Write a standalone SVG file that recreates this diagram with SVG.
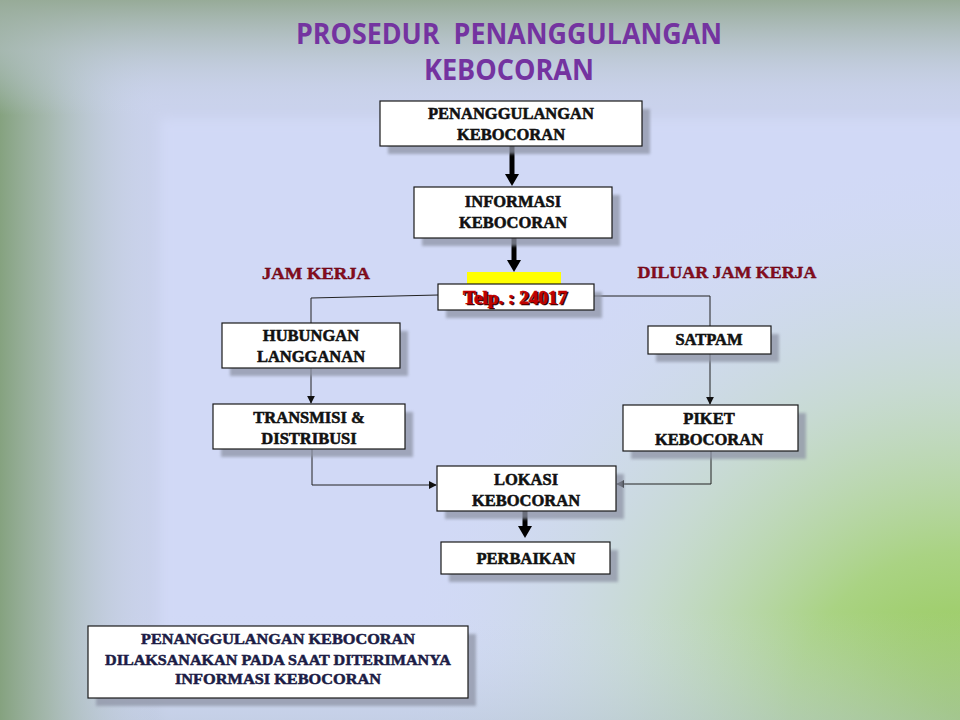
<svg xmlns="http://www.w3.org/2000/svg" width="960" height="720" viewBox="0 0 960 720">
<defs>
<linearGradient id="gl" x1="0" y1="0" x2="1" y2="0">
<stop offset="0" stop-color="#85a27f"/>
<stop offset="0.05" stop-color="#9fb4a4" stop-opacity="0.85"/>
<stop offset="0.17" stop-color="#cdd6f0" stop-opacity="0"/>
</linearGradient>
<linearGradient id="gt" x1="0" y1="0" x2="0" y2="1">
<stop offset="0" stop-color="#97ab98"/>
<stop offset="0.07" stop-color="#b3c1c4" stop-opacity="0.7"/>
<stop offset="0.16" stop-color="#cdd6f0" stop-opacity="0"/>
</linearGradient>
<radialGradient id="gbr" cx="960" cy="720" r="560" gradientUnits="userSpaceOnUse">
<stop offset="0" stop-color="#8fc648"/>
<stop offset="0.3" stop-color="#a5d276" stop-opacity="0.9"/>
<stop offset="0.6" stop-color="#bfdbb4" stop-opacity="0.55"/>
<stop offset="1" stop-color="#d2dcf2" stop-opacity="0"/>
</radialGradient>
<linearGradient id="gb" x1="0" y1="0" x2="0" y2="1">
<stop offset="0.85" stop-color="#cfd8f3" stop-opacity="0"/>
<stop offset="1" stop-color="#b8c6d6" stop-opacity="0.5"/>
</linearGradient>
<filter id="blur" x="-10%" y="-20%" width="120%" height="140%"><feGaussianBlur stdDeviation="1.5"/></filter>
<filter id="pblur" x="-10%" y="-10%" width="120%" height="120%"><feGaussianBlur stdDeviation="6"/></filter>
<marker id="ah" viewBox="0 0 10 10" refX="9" refY="5" markerWidth="8" markerHeight="8" markerUnits="userSpaceOnUse" orient="auto"><path d="M0,0 L10,5 L0,10 z" fill="#111"/></marker>
</defs>
<style>
.box{fill:#fff;stroke:#1a1a1a;stroke-width:1.2}
.sh{fill:#8f94a6;opacity:0.75;filter:url(#blur)}
.t{font-family:"Liberation Serif","Times New Roman",serif;font-weight:bold;font-size:16.5px;fill:#111;text-anchor:middle;stroke:#111;stroke-width:0.55}
.nt{font-family:"Liberation Serif","Times New Roman",serif;font-weight:bold;font-size:15px;fill:#1c1c45;text-anchor:middle;stroke:#1c1c45;stroke-width:0.5}
.lab{font-family:"Liberation Serif","Times New Roman",serif;font-weight:bold;font-size:17px;fill:#8a0c1c;text-anchor:middle;stroke:#5a0010;stroke-width:0.4}
.title{font-family:"Open Sans","Liberation Sans",sans-serif;font-weight:bold;font-size:28px;fill:#7433a0;text-anchor:middle;white-space:pre}
.c{fill:none;stroke:#222;stroke-width:1}
.thick{fill:none;stroke:#000;stroke-width:5}
</style>
<rect x="0" y="0" width="960" height="720" fill="#cad2ec"/>
<rect x="160" y="118" width="820" height="640" fill="#d1d9f6" filter="url(#pblur)"/>
<rect x="0" y="0" width="960" height="720" fill="url(#gbr)"/>
<rect x="0" y="0" width="960" height="720" fill="url(#gb)"/>
<rect x="0" y="0" width="960" height="720" fill="url(#gl)"/>
<rect x="0" y="0" width="960" height="720" fill="url(#gt)"/>
<text class="title" x="509" y="44" textLength="426" lengthAdjust="spacingAndGlyphs" xml:space="preserve">PROSEDUR  PENANGGULANGAN</text>
<text class="title" x="509" y="80" textLength="170" lengthAdjust="spacingAndGlyphs">KEBOCORAN</text>
<g id="connectors">
<line class="thick" x1="512" y1="146" x2="512" y2="176"/>
<path d="M505,174 L519,174 L512,186 z" fill="#000"/>
<line class="thick" x1="514" y1="238" x2="514" y2="262"/>
<path d="M507,260 L521,260 L514,272 z" fill="#000"/>
<polyline class="c" points="438,295 311,298 311,323"/>
<polyline class="c" points="594,296 710,296 710,326"/>
<line class="c" x1="311" y1="368" x2="311" y2="403" marker-end="url(#ah)"/>
<line class="c" x1="710" y1="354" x2="710" y2="404" marker-end="url(#ah)"/>
<polyline class="c" points="312,449 312,485 436,485" marker-end="url(#ah)"/>
<polyline class="c" points="711,451 711,484 617,484" marker-end="url(#ah)"/>
<line class="thick" x1="525" y1="511" x2="525" y2="528"/>
<path d="M518,526 L532,526 L525,538 z" fill="#000"/>
</g>
<g id="penanggulangan">
<rect class="sh" x="388" y="109" width="262" height="45"/>
<rect class="box" x="380" y="101" width="262" height="45"/>
<text class="t" x="511" y="119">PENANGGULANGAN</text>
<text class="t" x="511" y="140">KEBOCORAN</text>
</g>
<g id="informasi">
<rect class="sh" x="422" y="195" width="198" height="51"/>
<rect class="box" x="414" y="187" width="198" height="51"/>
<text class="t" x="513" y="207">INFORMASI</text>
<text class="t" x="513" y="228">KEBOCORAN</text>
</g>
<g id="jamkerja"><text class="lab" x="316" y="279" textLength="108" lengthAdjust="spacingAndGlyphs">JAM KERJA</text></g>
<g id="diluar"><text class="lab" x="727" y="278" textLength="179" lengthAdjust="spacingAndGlyphs">DILUAR JAM KERJA</text></g>
<g id="telp">
<rect x="467" y="272" width="94" height="16" fill="#ffff00"/>
<rect class="sh" x="446" y="292" width="156" height="26"/>
<rect class="box" x="438" y="284" width="156" height="26"/>
<text class="t" x="516.5" y="305" textLength="104" lengthAdjust="spacingAndGlyphs" style="font-size:18px;fill:#2a0000;stroke:#2a0000">Telp. : 24017</text>
<text class="t" x="515" y="303.5" textLength="104" lengthAdjust="spacingAndGlyphs" style="font-size:18px;fill:#c00000;stroke:#c00000">Telp. : 24017</text>
</g>
<g id="hubungan">
<rect class="sh" x="230" y="331" width="178" height="45"/>
<rect class="box" x="222" y="323" width="178" height="45"/>
<text class="t" x="311" y="341">HUBUNGAN</text>
<text class="t" x="311" y="362">LANGGANAN</text>
</g>
<g id="satpam">
<rect class="sh" x="656" y="334" width="123" height="28"/>
<rect class="box" x="648" y="326" width="123" height="28"/>
<text class="t" x="709" y="345">SATPAM</text>
</g>
<g id="transmisi">
<rect class="sh" x="221" y="412" width="192" height="45"/>
<rect class="box" x="213" y="404" width="192" height="45"/>
<text class="t" x="309" y="423">TRANSMISI &amp;</text>
<text class="t" x="309" y="444">DISTRIBUSI</text>
</g>
<g id="piket">
<rect class="sh" x="631" y="413" width="175" height="46"/>
<rect class="box" x="623" y="405" width="175" height="46"/>
<text class="t" x="709" y="424">PIKET</text>
<text class="t" x="709" y="445">KEBOCORAN</text>
</g>
<g id="lokasi">
<rect class="sh" x="445" y="474" width="179" height="45"/>
<rect class="box" x="437" y="466" width="179" height="45"/>
<text class="t" x="526" y="485">LOKASI</text>
<text class="t" x="526" y="506">KEBOCORAN</text>
</g>
<g id="perbaikan">
<rect class="sh" x="449" y="550" width="169" height="32"/>
<rect class="box" x="441" y="542" width="169" height="32"/>
<text class="t" x="526" y="564">PERBAIKAN</text>
</g>
<g id="note">
<rect class="sh" x="96" y="634" width="380" height="72"/>
<rect class="box" x="88" y="626" width="380" height="72"/>
<text class="nt" x="278" y="644" textLength="274" lengthAdjust="spacingAndGlyphs">PENANGGULANGAN KEBOCORAN</text>
<text class="nt" x="278" y="665" textLength="346" lengthAdjust="spacingAndGlyphs">DILAKSANAKAN PADA SAAT DITERIMANYA</text>
<text class="nt" x="278" y="684" textLength="206" lengthAdjust="spacingAndGlyphs">INFORMASI KEBOCORAN</text>
</g>
</svg>
